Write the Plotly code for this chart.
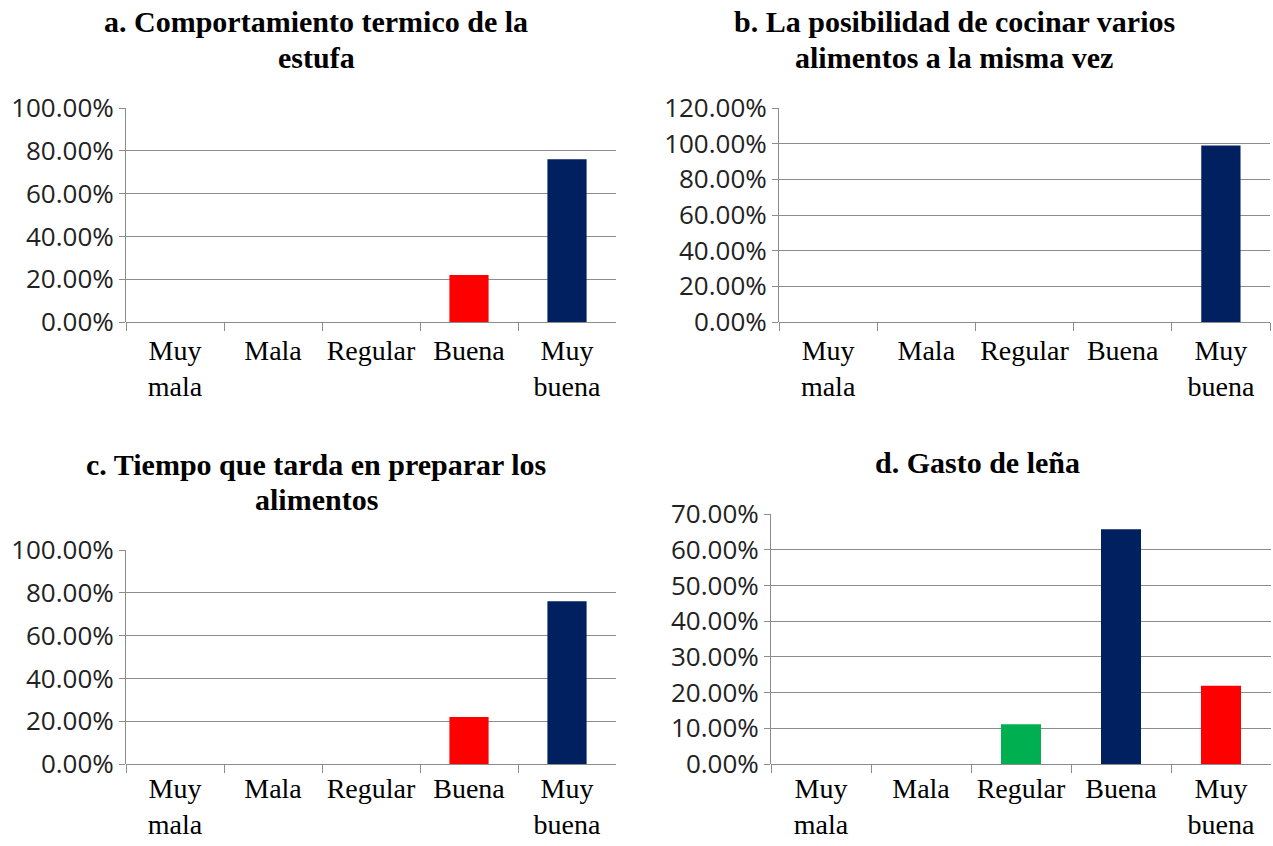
import plotly.graph_objects as go

W, H = 1273, 846

categories = ["Muy<br>mala", "Mala", "Regular", "Buena", "Muy<br>buena"]

titles = [
    ["a. Comportamiento termico de la", "estufa"],
    ["b. La posibilidad de cocinar varios", "alimentos a la misma vez"],
    ["c. Tiempo que tarda en preparar los", "alimentos"],
    ["d. Gasto de leña"],
]

values_a = [0, 0, 0, 0.22, 0.76]
values_b = [0, 0, 0, 0, 0.99]
values_c = [0, 0, 0, 0.22, 0.76]
values_d = [0, 0, 0.111, 0.657, 0.219]

NAVY, RED, GREEN = "#002060", "#FF0000", "#00B050"
colors_a = [NAVY, NAVY, NAVY, RED, NAVY]
colors_b = [NAVY, NAVY, NAVY, NAVY, NAVY]
colors_c = [NAVY, NAVY, NAVY, RED, NAVY]
colors_d = [NAVY, NAVY, GREEN, NAVY, RED]

y_max = [1.0, 1.2, 1.0, 0.7]
y_dtick = [0.2, 0.2, 0.2, 0.1]

# pixel boxes: (left, right, top, bottom)
boxes = [
    (126, 616, 108, 322),
    (779, 1270, 108, 322),
    (126, 616, 550, 764),
    (771, 1271, 514, 764),
]
label_standoff = [9, 9, 5, 5]
# title centre x and y of each line
title_pos = [(316, [21.5, 57]), (954, [21.5, 57]), (316, [464, 499]), (977, [463])]

series = [(values_a, colors_a), (values_b, colors_b), (values_c, colors_c), (values_d, colors_d)]


def fx(px):
    return px / W


def fy(py):
    return 1 - py / H


fig = go.Figure()
GRID = "#8c8c8c"
for i, ((vals, cols), box) in enumerate(zip(series, boxes)):
    n = "" if i == 0 else str(i + 1)
    fig.add_trace(go.Bar(
        x=categories, y=vals, marker=dict(color=cols, line=dict(width=0)),
        xaxis="x" + n, yaxis="y" + n, showlegend=False,
    ))
    l, r, t, b = box
    fig.layout["xaxis" + n] = dict(
        domain=[fx(l), fx(r)], anchor="y" + n, automargin=False,
        showline=False, showgrid=False, zeroline=False,
        ticks="outside", tickson="boundaries", ticklen=8, tickcolor=GRID, tickwidth=1,
        tickangle=0, ticklabelstandoff=label_standoff[i],
        tickfont=dict(family="Liberation Serif", size=28, color="#000000"),
        fixedrange=True,
    )
    fig.layout["yaxis" + n] = dict(
        domain=[fy(b), fy(t)], anchor="x" + n, automargin=False,
        range=[0, y_max[i]], dtick=y_dtick[i], tickformat=".2%",
        showgrid=True, gridcolor=GRID, gridwidth=1,
        showline=True, linecolor=GRID, linewidth=1,
        zeroline=True, zerolinecolor=GRID, zerolinewidth=1,
        ticks="outside", ticklen=6, tickcolor=GRID,
        tickfont=dict(family="Open Sans", size=26, color="#222222"),
        fixedrange=True,
    )

for lines, (cx, ys) in zip(titles, title_pos):
    for txt, cy in zip(lines, ys):
        fig.add_annotation(
            text="<b>" + txt + "</b>", xref="paper", yref="paper",
            x=fx(cx), y=fy(cy), xanchor="center", yanchor="middle",
            showarrow=False, font=dict(family="Liberation Serif", size=30, color="#000000"),
        )

fig.update_layout(
    width=W, height=H, margin=dict(l=0, r=0, t=0, b=0, autoexpand=False),
    paper_bgcolor="white", plot_bgcolor="white", bargap=0.6,
)
fig.write_html(
    "out.html",
    config={"displayModeBar": False, "staticPlot": True},
    post_script="document.body.style.margin='0';document.body.style.overflow='hidden';",
)
